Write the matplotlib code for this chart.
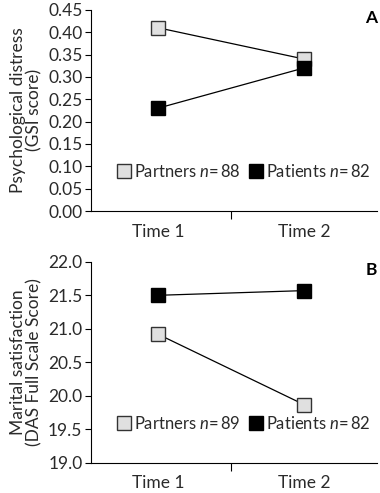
import matplotlib.pyplot as plt
from matplotlib.lines import Line2D

plt.rcParams['font.family'] = ['Lato', 'DejaVu Sans']
plt.rcParams['mathtext.fontset'] = 'custom'
plt.rcParams['mathtext.it'] = 'Lato:italic'
plt.rcParams['mathtext.rm'] = 'Lato'

times = ['Time 1', 'Time 2']
x = [1, 2]

# panel A: psychological distress (GSI)
gsi_partners = [0.41, 0.34]
gsi_patients = [0.23, 0.32]
gsi_ticks = [0.00, 0.05, 0.10, 0.15, 0.20, 0.25, 0.30, 0.35, 0.40, 0.45]

# panel B: marital satisfaction (DAS)
das_partners = [20.92, 19.87]
das_patients = [21.50, 21.57]
das_ticks = [19.0, 19.5, 20.0, 20.5, 21.0, 21.5, 22.0]

light = '#e0e0e0'
edge = '#333333'
txt = '#2a2a2a'
fs = 12.5

fig = plt.figure(figsize=(3.8, 4.93), dpi=100)
axA = fig.add_axes([0.239, 0.572, 0.753, 0.408])
axB = fig.add_axes([0.239, 0.061, 0.753, 0.408])


def panel(ax, partners, patients, ticks, fmt, ylabel, letter, n_partners, n_patients):
    ax.plot(x, partners, color='black', lw=0.9, marker='s', ms=10,
            mfc=light, mec=edge, mew=1.0, zorder=3)
    ax.plot(x, patients, color='black', lw=0.9, marker='s', ms=10,
            mfc='black', mec='black', mew=1.0, zorder=3)
    ax.set_xlim(0.54, 2.5)
    ax.set_ylim(ticks[0], ticks[-1])
    ax.set_yticks(ticks)
    ax.set_yticklabels([fmt.format(t) for t in ticks], fontsize=fs, color=txt)
    ax.set_xticks(x)
    ax.set_xticklabels(times, fontsize=fs, color=txt)
    ax.tick_params(axis='x', length=0, pad=9)
    ax.set_xticks([1.5], minor=True)
    ax.tick_params(axis='x', which='minor', length=6, width=0.8, direction='out')
    ax.tick_params(axis='y', length=4, width=0.8, direction='out', pad=2)
    for s in ['top', 'right']:
        ax.spines[s].set_visible(False)
    for s in ['left', 'bottom']:
        ax.spines[s].set_linewidth(0.8)
    ax.set_ylabel(ylabel, fontsize=fs, color=txt, labelpad=4, linespacing=1.05)
    ax.text(1.0, 1.0, letter, transform=ax.transAxes, ha='right', va='top',
            fontsize=fs, fontweight='bold')
    handles = [
        Line2D([], [], ls='none', marker='s', ms=10, mfc=light, mec=edge, mew=1.0),
        Line2D([], [], ls='none', marker='s', ms=10, mfc='black', mec='black'),
    ]
    labels = [f'Partners $n$=\u2009{n_partners}', f'Patients $n$=\u2009{n_patients}']
    leg = ax.legend(handles, labels, ncol=2, frameon=False, fontsize=12,
                    loc='lower right', bbox_to_anchor=(1.03, 0.08),
                    handletextpad=0.0, columnspacing=0.3, handlelength=1.2)
    for t in leg.get_texts():
        t.set_color(txt)


panel(axA, gsi_partners, gsi_patients, gsi_ticks, '{:.2f}',
      'Psychological distress\n(GSI score)', 'A', 88, 82)
panel(axB, das_partners, das_patients, das_ticks, '{:.1f}',
      'Marital satisfaction\n(DAS Full Scale Score)', 'B', 89, 82)

fig.savefig('out.png', dpi=100)
